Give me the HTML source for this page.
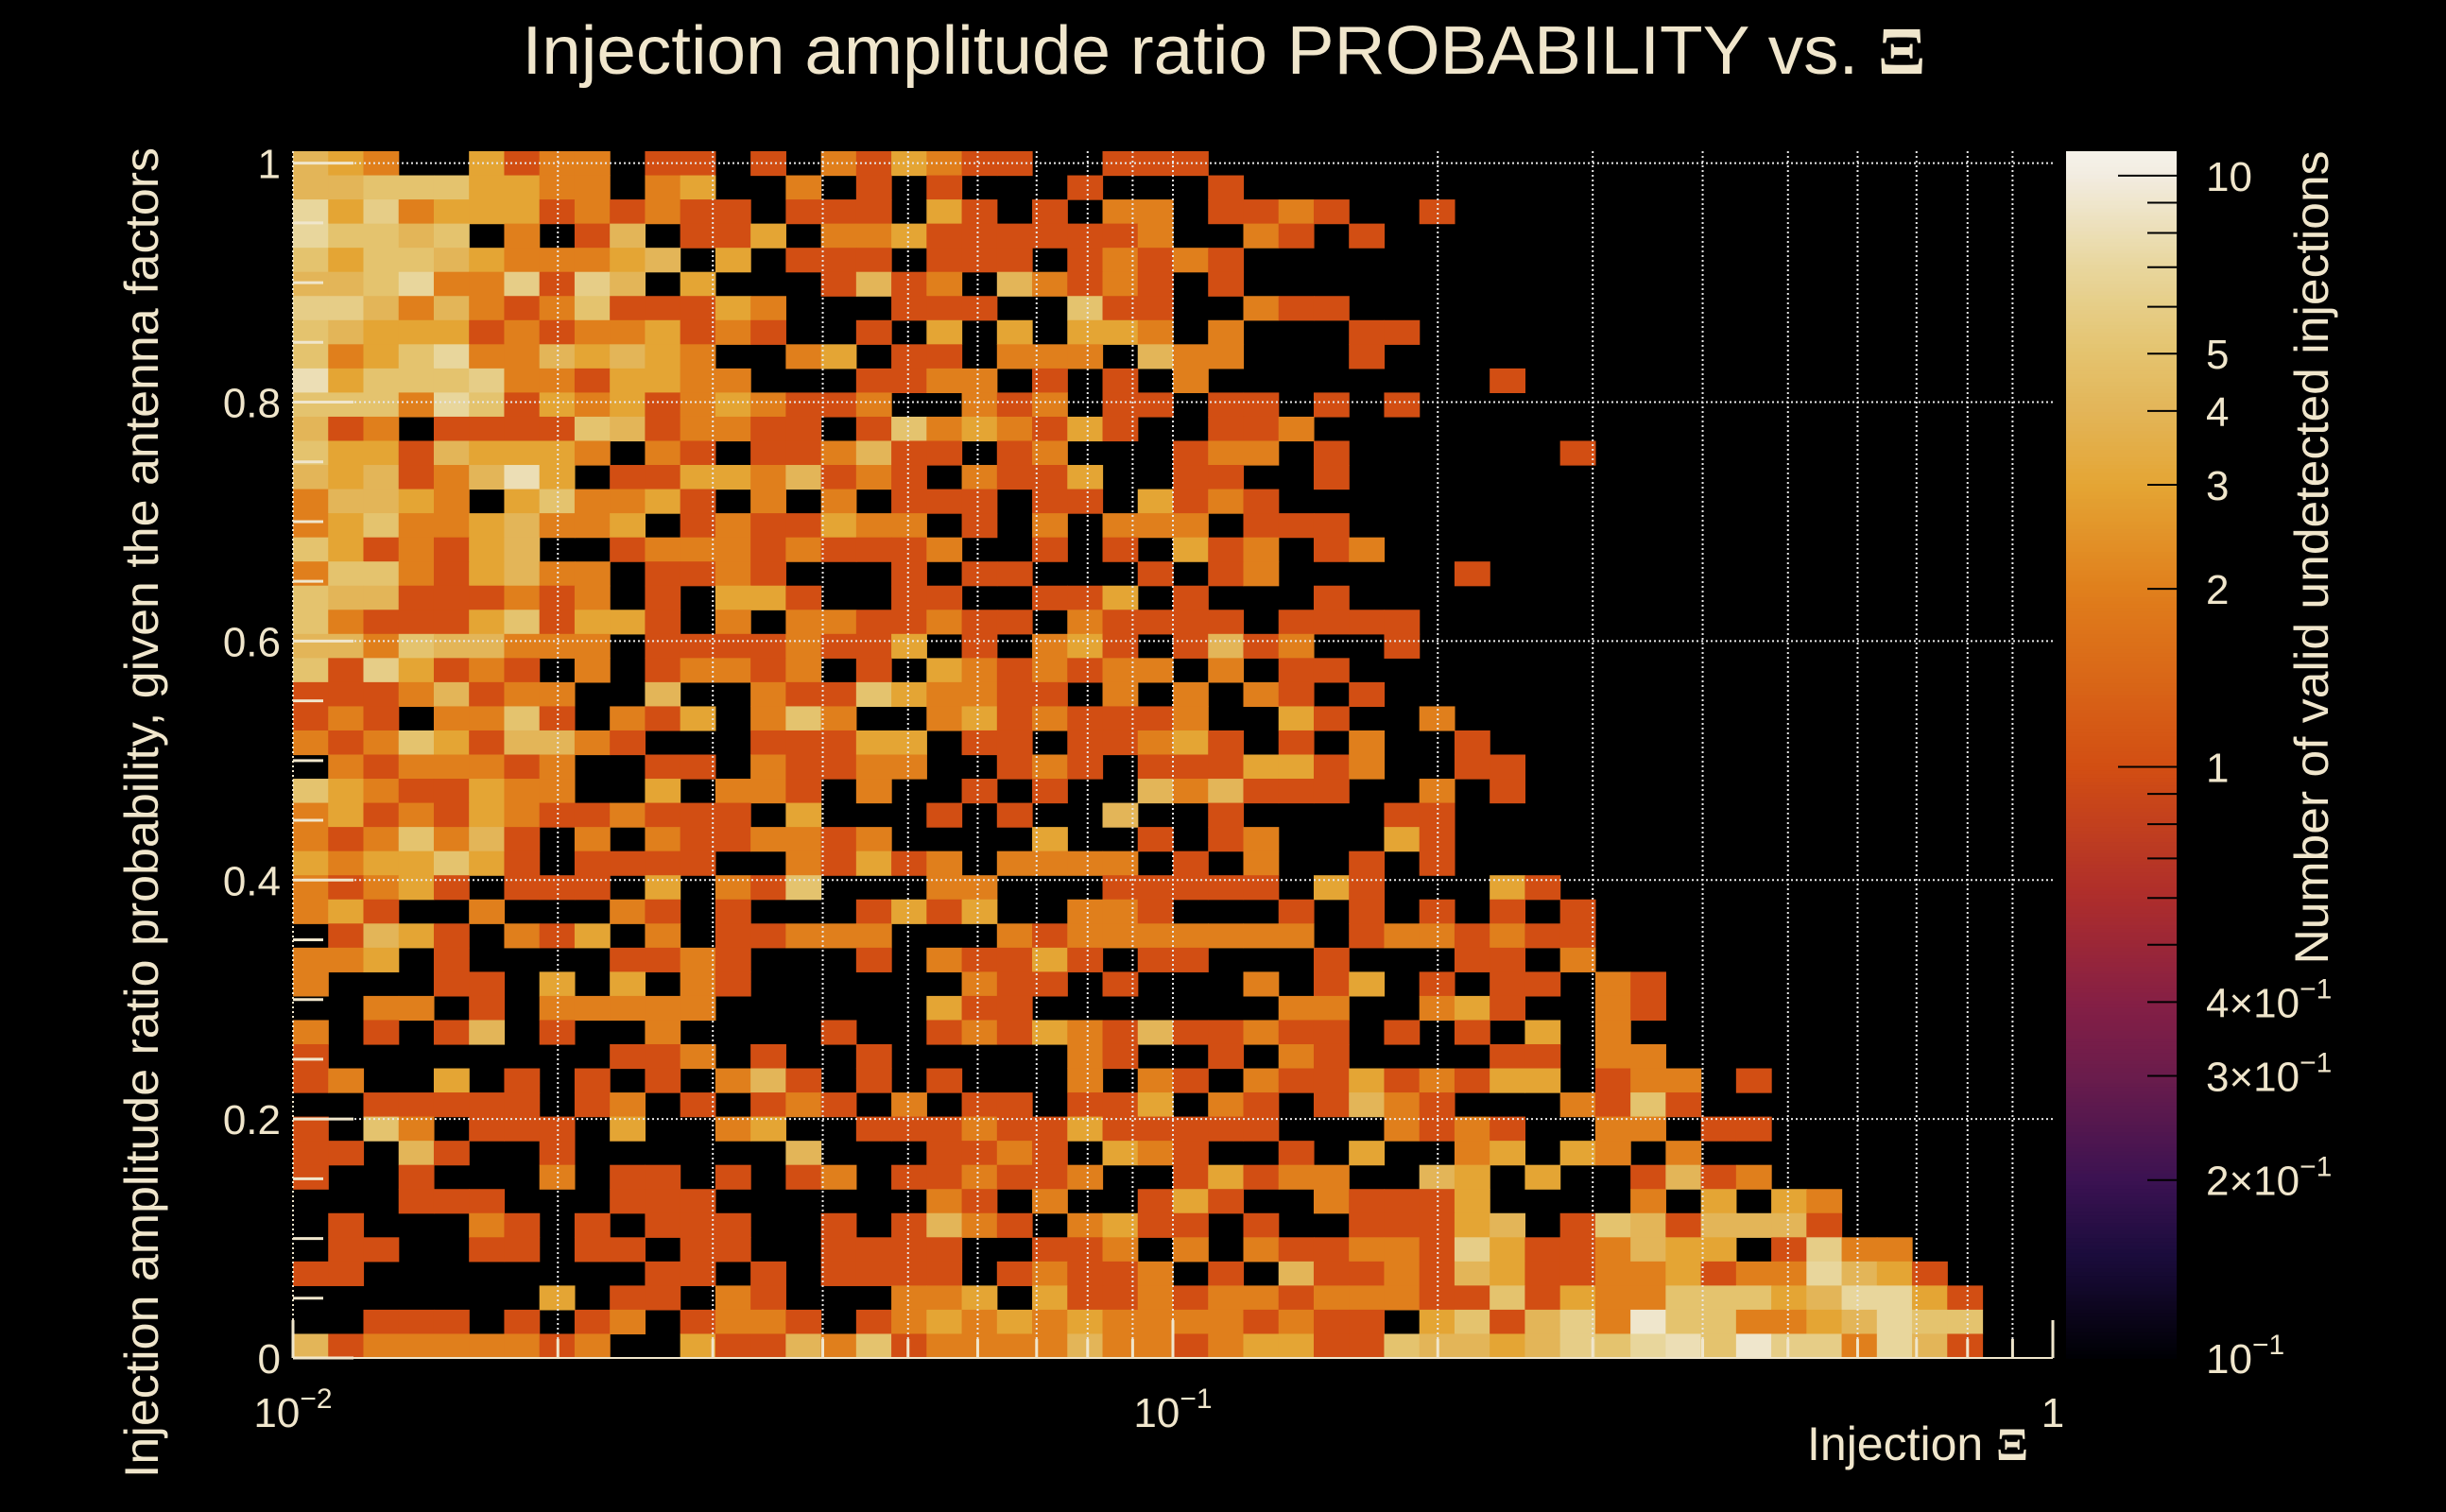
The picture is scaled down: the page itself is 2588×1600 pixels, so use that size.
<!DOCTYPE html>
<html><head><meta charset="utf-8"><title>Injection amplitude ratio PROBABILITY vs. Ξ</title>
<style>
html,body{margin:0;padding:0;background:#000;}
svg{display:block;}
text{font-family:"Liberation Sans",sans-serif;fill:#f0e6cc;}
</style></head>
<body>
<svg id="chart" width="2588" height="1600" viewBox="0 0 2588 1600" xmlns="http://www.w3.org/2000/svg">
<rect x="0" y="0" width="2588" height="1600" fill="#000"/>
<g id="cells"></g>
<g id="grid"></g>
<g id="axes"></g>
<g id="cbar"></g>
<text x="1295" y="78" font-size="72" text-anchor="middle" textLength="1485" lengthAdjust="spacingAndGlyphs">Injection amplitude ratio PROBABILITY vs.  <tspan font-family="Liberation Serif, serif" font-weight="bold">Ξ</tspan></text>
<text transform="translate(167,860) rotate(-90)" font-size="50" text-anchor="middle" textLength="1408" lengthAdjust="spacingAndGlyphs">Injection amplitude ratio probability, given the antenna factors</text>
<text x="2146" y="1545" font-size="50" text-anchor="end">Injection <tspan font-family="Liberation Serif, serif" font-weight="bold">Ξ</tspan></text>
<text transform="translate(2463,590) rotate(-90)" font-size="50" text-anchor="middle" textLength="861" lengthAdjust="spacingAndGlyphs">Number of valid undetected injections</text>
</svg>
<script>
const rowsData = [
"43200312201101021"+"32110011100000000"+"0000000000000000",
"44555332202300201"+"01000100010000000"+"0000000000000000",
"73623331212110111"+"03101022011210010"+"0000000000000000",
"75545020140113022"+"31111112002101000"+"0000000000000000",
"53554322234030111"+"01110121210000000"+"0000000000000000",
"44572261640300014"+"12042121010000000"+"0000000000000000",
"66424212511132000"+"11100511002110000"+"0000000000000000",
"54333121223121001"+"03030332020001100"+"0000000000000000",
"52357224343200230"+"11022204220001000"+"0000000000000000",
"83555622133220001"+"12201010200000000"+"1000000000000000",
"55527513231232112"+"00212011011010100"+"0000000000000000",
"41201111541221101"+"52321310011200000"+"0000000000000000",
"53314333202101124"+"11012000122010000"+"0010000000000000",
"43412483011332412"+"10211300110010000"+"0000000000000000",
"24432035223102020"+"11101103121000000"+"0000000000000000",
"23522342230121132"+"20102022201110000"+"0000000000000000",
"53121340012221211"+"12001010312012000"+"0000000000000000",
"25521342201121000"+"10110001012000001"+"0000000000000000",
"54411121201033100"+"11001130100010000"+"0000000000000000",
"52111351331020221"+"12110211110111100"+"0000000000000000",
"44254422201111211"+"30102310141200100"+"0000000000000000",
"51631210201221201"+"03212122020110000"+"0000000000000000",
"11124122004002115"+"32211020202101000"+"0000000000000000",
"12102251021302520"+"02312111200310020"+"0000000000000000",
"21253144210001113"+"30110112310102001"+"0000000000000000",
"02122212001102112"+"20012101113312001"+"1000000000000000",
"53211322003022102"+"00101004241110020"+"1000000000000000",
"23121321121110300"+"01010040010000110"+"0000000000000000",
"21252410202112212"+"00003001012000310"+"0000000000000000",
"32335310111100213"+"12022220102001010"+"0000000000000000",
"21231011103021500"+"02200011111031000"+"3100000000000000",
"23100200021010001"+"31300221000101010"+"1010000000000000",
"01431021302011222"+"00021222222201221"+"2110000000000000",
"22301000011210001"+"02113101100010001"+"1020000000000000",
"20001103030210000"+"00211010002013010"+"1102100000000000",
"00220102222200000"+"03110000000220023"+"1002100000000000",
"20101401002000010"+"01213214112110101"+"0302000000000000",
"10000000011201001"+"00000210010210000"+"1102200000000000",
"12003010101024101"+"01000202102113121"+"3301220100000000",
"00111110120101210"+"20110113021014210"+"0021510000000000",
"10520111030023001"+"11211311111000212"+"1002201100000000",
"11041001000000400"+"01121032100103002"+"3032020000000000",
"10010002011010120"+"11211200131220043"+"0300141200000000",
"00011100011100000"+"02102001310021113"+"0000203032000000",
"01000210101110010"+"14210231101001113"+"4015414441000000",
"01100110110110011"+"11001120202112216"+"3112433016220000",
"11000000001101011"+"11012112010411214"+"3112231227431000",
"00000003011021000"+"22303112122122211"+"5132255534773100",
"00111010120122101"+"23232322221211035"+"1462955223475500",
"41222221200311425"+"12222422123311544"+"3465785966274100"
];
const xTickValues = [0.01, 0.1, 1];
const xTickBase = ["10", "10", "1"];
const xTickExp = ["\u22122", "\u22121", ""];
const yTickValues = [0, 0.2, 0.4, 0.6, 0.8, 1];
const yTickLabels = ["0", "0.2", "0.4", "0.6", "0.8", "1"];
const cbTickValues = [10, 5, 4, 3, 2, 1, 0.4, 0.3, 0.2, 0.1];
const cbTickBase = ["10", "5", "4", "3", "2", "1", "4\u00d710", "3\u00d710", "2\u00d710", "10"];
const cbTickExp = ["", "", "", "", "", "", "\u22121", "\u22121", "\u22121", "\u22121"];

const NS = "http://www.w3.org/2000/svg";
const PL = 310, PR = 2172, PT = 160, PB = 1437;
const X0 = 0.01, X1 = 1, Y0 = 0, Y1 = 1.01;
const NX = 50, NY = 50;
const CBL = 2186, CBR = 2303, CBMIN = 0.1, CBMAX = 11;
function xScale(v){ return PL + (Math.log10(v) - Math.log10(X0)) / (Math.log10(X1) - Math.log10(X0)) * (PR - PL); }
function yScale(v){ return PB - (v - Y0) / (Y1 - Y0) * (PB - PT); }
function cbScale(v){ return PB - (Math.log10(v) - Math.log10(CBMIN)) / (Math.log10(CBMAX) - Math.log10(CBMIN)) * (PB - PT); }
function xEdge(i){ return Math.pow(10, Math.log10(X0) + i * (Math.log10(X1) - Math.log10(X0)) / NX); }
function yEdge(j){ return Y0 + j * (Y1 - Y0) / NY; }

const stops = [[-1,"#000004"],[-0.824,"#1b0c3c"],[-0.699,"#3b1252"],[-0.523,"#6a1c4c"],[-0.398,"#851f45"],[-0.222,"#ad2d2c"],[0,"#d24e13"],[0.301,"#e07f1c"],[0.477,"#e4a534"],[0.602,"#e3b558"],[0.699,"#e4c36e"],[0.845,"#e8d69c"],[1,"#f2ece0"],[1.05,"#f6f3ec"]];
function hex(h){ return [parseInt(h.substr(1,2),16),parseInt(h.substr(3,2),16),parseInt(h.substr(5,2),16)]; }
function colorOf(v){
  const l = Math.log10(v);
  if (l <= stops[0][0]) return stops[0][1];
  for (let i = 1; i < stops.length; i++){
    if (l <= stops[i][0]){
      const a = hex(stops[i-1][1]), b = hex(stops[i][1]);
      const t = (l - stops[i-1][0]) / (stops[i][0] - stops[i-1][0]);
      return "rgb(" + a.map((c,k)=>Math.round(c + (b[k]-c)*t)).join(",") + ")";
    }
  }
  return stops[stops.length-1][1];
}
function mk(tag, attrs, parent){
  const e = document.createElementNS(NS, tag);
  for (const k in attrs) e.setAttribute(k, attrs[k]);
  parent.appendChild(e);
  return e;
}

const cellsG = document.getElementById("cells");
rowsData.forEach((row, r) => {
  const j = NY - 1 - r;
  for (let i = 0; i < NX; i++){
    const v = parseInt(row.charAt(i) || "0", 10);
    if (!v) continue;
    const x0 = xScale(xEdge(i)), x1 = xScale(xEdge(i+1));
    const y0 = yScale(yEdge(j+1)), y1 = yScale(yEdge(j));
    const c = mk("rect", {x: x0.toFixed(2), y: y0.toFixed(2), width: (x1-x0+0.6).toFixed(2), height: (y1-y0+0.6).toFixed(2), fill: colorOf(v)}, cellsG);
    
    
  }
});

const gridG = document.getElementById("grid");
for (let d = -2; d <= -1; d++){
  for (let k = 1; k <= 9; k++){
    const v = k * Math.pow(10, d);
    if (v <= X0) continue;
    const x = xScale(v);
    const g = mk("line", {x1: x, x2: x, y1: PT, y2: PB, stroke: "#e8e8e8", "stroke-width": 2, "stroke-dasharray": "2,3"}, gridG);
    
    
  }
}
yTickValues.forEach(v => {
  if (v === 0) return;
  const y = yScale(v);
  const g = mk("line", {x1: PL, x2: PR, y1: y, y2: y, stroke: "#e8e8e8", "stroke-width": 2, "stroke-dasharray": "2,3"}, gridG);
  
  
});

const axG = document.getElementById("axes");
const frameL = mk("line", {x1: PL, x2: PL, y1: PT, y2: PB, stroke: "#f0e6cc", "stroke-width": 2, "stroke-dasharray": "2,3"}, axG);


const frameB = mk("line", {x1: PL, x2: PR, y1: PB, y2: PB, stroke: "#f0e6cc", "stroke-width": 2}, axG);


for (let k = 0; k <= 20; k++){
  const v = k * 0.05;
  const y = yScale(v);
  const len = (k % 4 === 0) ? 64 : 32;
  const t = mk("line", {x1: PL, x2: PL + len, y1: y, y2: y, stroke: "#f0e6cc", "stroke-width": 3}, axG);
  
  
}
for (let d = -2; d <= -1; d++){
  for (let k = 1; k <= 10; k++){
    const v = k * Math.pow(10, d);
    const x = xScale(v);
    const len = (k === 1 || k === 10) ? 40 : 20;
    const t = mk("line", {x1: x, x2: x, y1: PB, y2: PB - len, stroke: "#f0e6cc", "stroke-width": 3}, axG);
    
    
  }
}
yTickValues.forEach((v, i) => {
  const t = mk("text", {x: 297, y: yScale(v) + 16, "font-size": 44, "text-anchor": "end"}, axG);
  t.textContent = yTickLabels[i];
  
  
});
xTickValues.forEach((v, i) => {
  const t = mk("text", {x: xScale(v), y: 1510, "font-size": 44, "text-anchor": "middle"}, axG);
  
  
  const b = mk("tspan", {}, t); b.textContent = xTickBase[i];
  if (xTickExp[i]){ const e = mk("tspan", {dy: -20, "font-size": 30}, t); e.textContent = xTickExp[i]; }
});

const cbG = document.getElementById("cbar");
const NSL = 320;
const lmin = Math.log10(CBMIN), lmax = Math.log10(CBMAX);
for (let s = 0; s < NSL; s++){
  const a = Math.pow(10, lmin + (lmax - lmin) * s / NSL);
  const b = Math.pow(10, lmin + (lmax - lmin) * (s + 1) / NSL);
  const mid = Math.pow(10, lmin + (lmax - lmin) * (s + 0.5) / NSL);
  const y1 = cbScale(a), y0 = cbScale(b);
  const r = mk("rect", {x: CBL, y: y0.toFixed(2), width: CBR - CBL, height: (y1 - y0 + 0.8).toFixed(2), fill: colorOf(mid)}, cbG);
  
  
}
[0.1, 1].forEach(dec => {
  for (let k = 1; k <= 10; k++){
    const v = k * dec;
    if (v <= CBMIN || v > CBMAX) continue;
    const y = cbScale(v);
    const major = (k === 10);
    const t = mk("line", {x1: major ? CBL + 55 : CBL + 86, x2: CBR, y1: y, y2: y, stroke: "#000", "stroke-width": 2}, cbG);
    
    
  }
});
cbTickValues.forEach((v, i) => {
  const t = mk("text", {x: 2334, y: cbScale(v) + 16, "font-size": 44}, cbG);
  
  
  const b = mk("tspan", {}, t); b.textContent = cbTickBase[i];
  if (cbTickExp[i]){ const e = mk("tspan", {dy: -20, "font-size": 30}, t); e.textContent = cbTickExp[i]; }
});
</script>
</body></html>
